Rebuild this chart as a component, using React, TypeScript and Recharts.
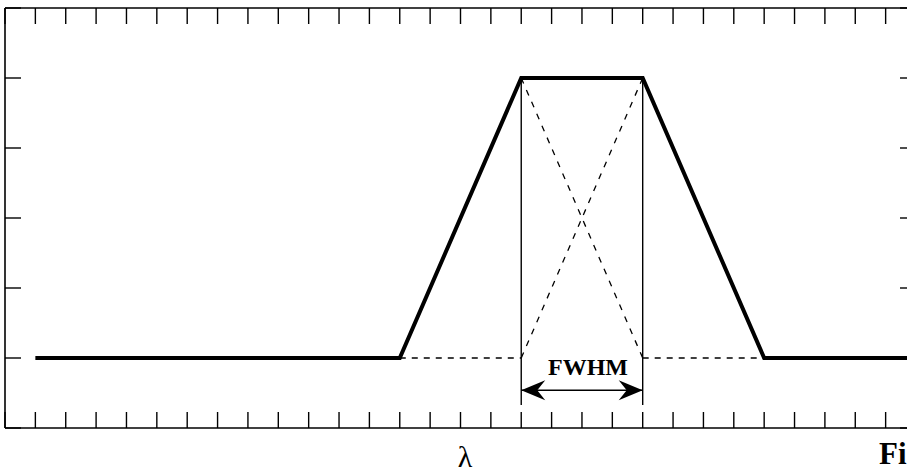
import { Line, LineChart, XAxis, YAxis } from "recharts";

type Pt = { x: number; y: number };

// filter transmission profile (x in tick units along λ, y in tick units)
const profile: Pt[] = [
  { x: 1, y: 1 },
  { x: 13, y: 1 },
  { x: 17, y: 5 },
  { x: 21, y: 5 },
  { x: 25, y: 1 },
  { x: 30, y: 1 },
];

const baseLeft: Pt[] = [
  { x: 13, y: 1 },
  { x: 17, y: 1 },
];
const baseRight: Pt[] = [
  { x: 21, y: 1 },
  { x: 25, y: 1 },
];
const diagUp: Pt[] = [
  { x: 17, y: 1 },
  { x: 21, y: 5 },
];
const diagDown: Pt[] = [
  { x: 17, y: 5 },
  { x: 21, y: 1 },
];
const markLeft: Pt[] = [
  { x: 17, y: 5 },
  { x: 17, y: 0.33 },
];
const markRight: Pt[] = [
  { x: 21, y: 5 },
  { x: 21, y: 0.33 },
];
const fwhmArrow: Pt[] = [
  { x: 17, y: 0.54 },
  { x: 21, y: 0.54 },
];

const xTicks = Array.from({ length: 31 }, (_, i) => i);
const yTicks = [0, 1, 2, 3, 4, 5, 6];

const ink = "#000";
const serif = "'Liberation Serif', 'Times New Roman', serif";

function NoLabel() {
  return <g />;
}

function ArrowHead(props: any) {
  const { cx, cy, index } = props;
  if (cx == null || cy == null) return null;
  const dir = index === 0 ? 1 : -1;
  return (
    <path
      key={`ah-${index}`}
      d="M0,0 L24,-10 L16,0 L24,10 Z"
      fill={ink}
      transform={`translate(${cx},${cy}) scale(${dir},1)`}
    />
  );
}

export default function App() {
  const axisLine = { stroke: ink, strokeWidth: 1.6 };
  const tickLine = { stroke: ink, strokeWidth: 1.4 };
  return (
    <div
      style={{
        position: "absolute",
        left: 0,
        top: 0,
        width: 907,
        height: 473,
        overflow: "hidden",
        background: "#fff",
      }}
    >
      <LineChart
        width={925}
        height={473}
        margin={{ top: 8, left: 5, right: 9, bottom: 45 }}
      >
        <XAxis
          xAxisId="b"
          dataKey="x"
          type="number"
          domain={[0, 30]}
          ticks={xTicks}
          orientation="bottom"
          mirror
          tick={NoLabel}
          tickSize={16}
          axisLine={axisLine}
          tickLine={tickLine}
          allowDataOverflow
        />
        <XAxis
          xAxisId="t"
          dataKey="x"
          type="number"
          domain={[0, 30]}
          ticks={xTicks}
          orientation="top"
          mirror
          tick={NoLabel}
          tickSize={16}
          axisLine={axisLine}
          tickLine={tickLine}
          allowDataOverflow
        />
        <YAxis
          yAxisId="l"
          type="number"
          domain={[0, 6]}
          ticks={yTicks}
          orientation="left"
          mirror
          tick={NoLabel}
          tickSize={16}
          axisLine={axisLine}
          tickLine={tickLine}
          allowDataOverflow
        />
        <YAxis
          yAxisId="r"
          type="number"
          domain={[0, 6]}
          ticks={yTicks}
          orientation="right"
          mirror
          tick={NoLabel}
          tickSize={16}
          axisLine={axisLine}
          tickLine={tickLine}
          allowDataOverflow
        />

        {[baseLeft, baseRight].map((d, i) => (
          <Line
            key={`base-${i}`}
            xAxisId="b"
            yAxisId="l"
            data={d}
            dataKey="y"
            type="linear"
            stroke={ink}
            strokeWidth={1.3}
            strokeDasharray="6 6"
            dot={false}
            activeDot={false}
            isAnimationActive={false}
          />
        ))}
        {[diagUp, diagDown].map((d, i) => (
          <Line
            key={`diag-${i}`}
            xAxisId="b"
            yAxisId="l"
            data={d}
            dataKey="y"
            type="linear"
            stroke={ink}
            strokeWidth={1.3}
            strokeDasharray="6 7"
            dot={false}
            activeDot={false}
            isAnimationActive={false}
          />
        ))}
        {[markLeft, markRight].map((d, i) => (
          <Line
            key={`mark-${i}`}
            xAxisId="b"
            yAxisId="l"
            data={d}
            dataKey="y"
            type="linear"
            stroke={ink}
            strokeWidth={1.4}
            dot={false}
            activeDot={false}
            isAnimationActive={false}
          />
        ))}
        <Line
          xAxisId="b"
          yAxisId="l"
          data={fwhmArrow}
          dataKey="y"
          type="linear"
          stroke={ink}
          strokeWidth={1.6}
          dot={ArrowHead}
          activeDot={false}
          isAnimationActive={false}
        />
        <Line
          xAxisId="b"
          yAxisId="l"
          data={profile}
          dataKey="y"
          type="linear"
          stroke={ink}
          strokeWidth={4}
          strokeLinejoin="miter"
          dot={false}
          activeDot={false}
          isAnimationActive={false}
        />
      </LineChart>
      <svg
        width={907}
        height={473}
        style={{ position: "absolute", left: 0, top: 0, pointerEvents: "none" }}
      >
        <text
          x={588}
          y={375}
          textAnchor="middle"
          fontFamily={serif}
          fontWeight="bold"
          fontSize={24}
          fill={ink}
        >
          FWHM
        </text>
        <text
          x={465}
          y={467}
          textAnchor="middle"
          fontFamily={serif}
          fontSize={30}
          fill={ink}
        >
          λ
        </text>
        <text
          x={879}
          y={464}
          fontFamily={serif}
          fontWeight="bold"
          fontSize={31}
          fill={ink}
        >
          Fi
        </text>
      </svg>
    </div>
  );
}
